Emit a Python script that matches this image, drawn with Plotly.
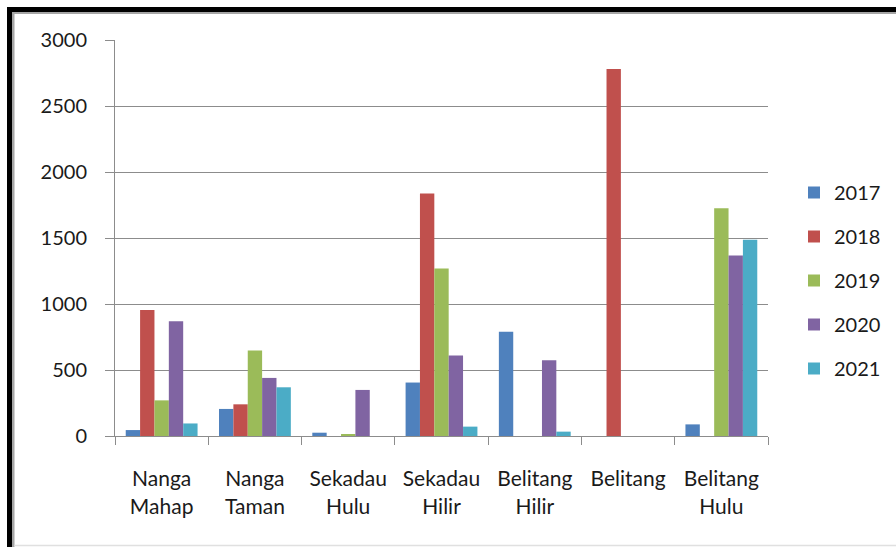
import plotly.graph_objects as go

# District names (two-line tick labels) and yearly values per district
districts = ["Nanga<br>Mahap", "Nanga<br>Taman", "Sekadau<br>Hulu", "Sekadau<br>Hilir",
             "Belitang<br>Hilir", "Belitang", "Belitang<br>Hulu"]
years = ["2017", "2018", "2019", "2020", "2021"]

v2017 = [45, 205, 25, 405, 790, 0, 88]
v2018 = [955, 240, 0, 1837, 0, 2780, 0]
v2019 = [270, 647, 8, 1268, 0, 0, 1726]
v2020 = [870, 440, 349, 609, 574, 0, 1367]
v2021 = [95, 369, 0, 71, 33, 0, 1486]

series = [v2017, v2018, v2019, v2020, v2021]
colors = ["#4F81BD", "#C0504D", "#9BBB59", "#8064A2", "#4BACC6"]

W, H = 896, 547
L, R, T, B = 115, 128, 40, 111
pw, ph = W - L - R, H - T - B

fig = go.Figure()
for name, vals, col in zip(years, series, colors):
    fig.add_trace(go.Bar(
        x=districts, y=vals, name=name, legendgroup=name,
        marker=dict(color=col, line=dict(width=0)),
    ))

font_family = "Lato, 'Liberation Sans', sans-serif"
axis_gray = "#8C8C8C"


def px_x(px):
    return (px - L) / pw


def px_y(py):
    return (H - B - py) / ph


shapes = [
    # thick dark frame on the left and top, with a thin grey inner line
    dict(type="rect", xref="paper", yref="paper", x0=px_x(7), x1=px_x(12), y0=px_y(H), y1=px_y(7),
         fillcolor="black", line=dict(width=0), layer="above"),
    dict(type="rect", xref="paper", yref="paper", x0=px_x(7), x1=px_x(W), y0=px_y(12), y1=px_y(7),
         fillcolor="black", line=dict(width=0), layer="above"),
    dict(type="rect", xref="paper", yref="paper", x0=px_x(12), x1=px_x(14.5), y0=px_y(H), y1=px_y(12),
         fillcolor="#A6A6A6", line=dict(width=0), layer="above"),
    dict(type="rect", xref="paper", yref="paper", x0=px_x(12), x1=px_x(W), y0=px_y(14), y1=px_y(12),
         fillcolor="#A6A6A6", line=dict(width=0), layer="above"),
    # faint bottom edge
    dict(type="line", xref="paper", yref="paper", x0=px_x(14.5), x1=px_x(W), y0=px_y(545.5), y1=px_y(545.5),
         line=dict(color="#E0E0E0", width=1.5), layer="above"),
]

fig.update_layout(
    width=W, height=H,
    margin=dict(l=L, r=R, t=T, b=B, pad=0, autoexpand=False),
    paper_bgcolor="white", plot_bgcolor="white",
    barmode="group", bargap=0.23, bargroupgap=0,
    font=dict(family=font_family, size=20, color="#1A1A1A"),
    showlegend=True,
    legend=dict(
        x=px_x(794), xanchor="left", y=px_y(173), yanchor="top",
        font=dict(size=20, color="#1A1A1A"),
        tracegroupgap=15, itemsizing="constant",
        bgcolor="rgba(0,0,0,0)",
    ),
    shapes=shapes,
)

fig.update_xaxes(
    type="category", tickson="boundaries", ticks="outside", ticklen=8,
    tickcolor=axis_gray, showline=True, linecolor=axis_gray, linewidth=1,
    showgrid=False, ticklabelstandoff=24,
    tickfont=dict(size=21, color="#1A1A1A"),
)
fig.update_yaxes(
    range=[0, 3000], tickvals=[0, 500, 1000, 1500, 2000, 2500, 3000],
    ticks="outside", ticklen=9, tickcolor=axis_gray,
    showline=True, linecolor=axis_gray, linewidth=1,
    showgrid=True, gridcolor=axis_gray, gridwidth=1,
    zeroline=False, ticklabelstandoff=14,
    tickfont=dict(size=20, color="#1A1A1A"),
)

fig.write_html("out.html")
